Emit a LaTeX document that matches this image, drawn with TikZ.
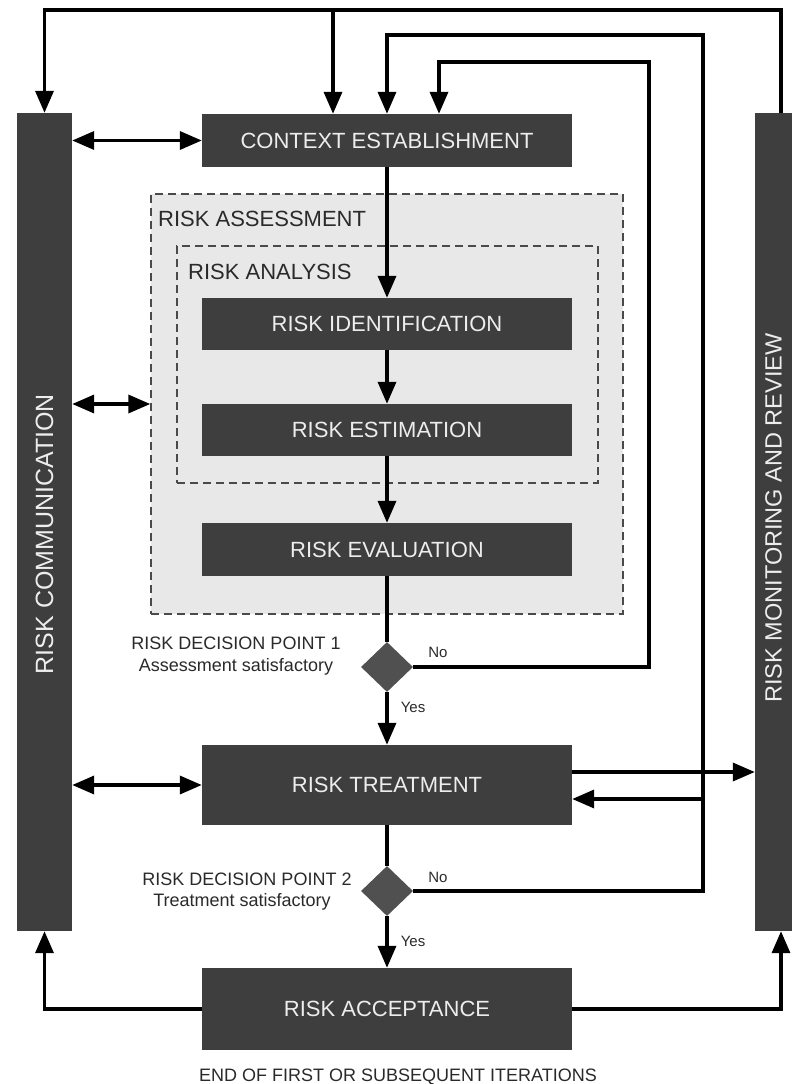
\documentclass[tikz,border=0pt]{standalone}
\usepackage{fontspec}
\setmainfont{Liberation Sans}
\usetikzlibrary{arrows.meta,shapes.geometric,calc}
\definecolor{boxgray}{HTML}{3E3E3E}
\definecolor{diagray}{HTML}{505050}
\definecolor{areagray}{HTML}{E8E8E8}
\definecolor{dashgray}{HTML}{4A4A4A}
\definecolor{labelgray}{HTML}{2A2A2A}
\definecolor{boxtext}{HTML}{EDEDED}
\begin{document}
\begin{tikzpicture}[x=1pt,y=-1pt,
  proc/.style={fill=boxgray, text=boxtext, minimum width=370pt, inner sep=0pt, font=\fontsize{22}{26}\selectfont},
  bar/.style={fill=boxgray, text=boxtext, inner sep=0pt, font=\fontsize{22}{26}\selectfont},
  dec/.style={diamond, fill=diagray, minimum width=52pt, minimum height=50pt, inner sep=0pt},
  area/.style={draw=dashgray, fill=areagray, line width=1.4pt, dash pattern=on 8pt off 5pt, inner sep=0pt},
  flow/.style={line width=3.5pt, black},
  arr/.style={flow, -{Triangle[length=22pt,width=18pt]}},
  darr/.style={flow, {Triangle[length=22pt,width=18pt]}-{Triangle[length=22pt,width=18pt]}},
  lab/.style={text=labelgray, inner sep=0pt, font=\fontsize{18}{21}\selectfont},
  small/.style={text=labelgray, inner sep=0pt, font=\fontsize{15}{18}\selectfont},
  arealab/.style={text=labelgray, inner sep=0pt, anchor=base west, font=\fontsize{22}{26}\selectfont}
]
\fill[white] (0,0) rectangle (792,1084);
\useasboundingbox (0,0) rectangle (792,1084);

% dashed areas
\node[area, minimum width=472pt, minimum height=420pt] (assess) at (387,404) {};
\node[area, minimum width=421pt, minimum height=237pt] (analysis) at (387.5,364.5) {};
\node[arealab] (assesslab) at (158,226) {RISK ASSESSMENT};
\node[arealab] (analysislab) at (188,279) {RISK ANALYSIS};

% side bars
\node[bar, minimum width=55pt, minimum height=818pt] (comm) at (44.5,522) {};
\node[bar, rotate=90, font=\fontsize{25}{30}\selectfont] (commtext) at (44.5,534) {RISK COMMUNICATION};
\node[bar, minimum width=37pt, minimum height=818pt] (mon) at (773.5,522) {};
\node[bar, rotate=90, font=\fontsize{23.5}{28}\selectfont] (montext) at (773.5,518) {RISK MONITORING AND REVIEW};

% process boxes
\node[proc, minimum height=53pt] (ce) at (387,140.5) {CONTEXT ESTABLISHMENT};
\node[proc, minimum height=52pt] (ri) at (387,324) {RISK IDENTIFICATION};
\node[proc, minimum height=52pt] (rest) at (387,430) {RISK ESTIMATION};
\node[proc, minimum height=53pt] (rev) at (387,549.5) {RISK EVALUATION};
\node[proc, minimum height=80pt] (rt) at (387,785) {RISK TREATMENT};
\node[proc, minimum height=82pt] (ra) at (387,1009) {RISK ACCEPTANCE};

% decisions
\node[dec] (d1) at (387,667) {};
\node[dec] (d2) at (387,891) {};

\node[lab] (dp1) at (236,643) {RISK DECISION POINT 1};
\node[lab] (dp1b) at (236,667) {Assessment satisfactory};
\node[lab] (dp2) at (247,879) {RISK DECISION POINT 2};
\node[lab] (dp2b) at (242,902) {Treatment satisfactory};
\node[small] (no1) at (438,652) {No};
\node[small] (yes1) at (413,707) {Yes};
\node[small] (no2) at (438,877) {No};
\node[small] (yes2) at (413,941) {Yes};
\node[lab] (endlab) at (398,1077) {END OF FIRST OR SUBSEQUENT ITERATIONS};

% main chain
\draw[arr] (ce.south) -- (ri.north);
\draw[arr] (ri.south) -- (rest.north);
\draw[arr] (rest.south) -- (rev.north);
\draw[flow] (rev.south) -- (d1.north);
\draw[arr] (d1.south) -- (rt.north);
\draw[flow] (rt.south) -- (d2.north);
\draw[arr] (d2.south) -- (ra.north);

% communication double arrows
\draw[darr] (ce.west -| comm.east) -- (ce.west);
\draw[darr] (assess.west -| comm.east) -- (assess.west);
\draw[darr] (rt.west -| comm.east) -- (rt.west);

% top loop from monitoring
\coordinate (tr) at (781,10);
\coordinate (tm) at (333,10);
\draw[arr] (tr |- mon.north) -- (tr) -- (tr -| comm.north) -- (comm.north);
\draw[arr] (tm) -- (tm |- ce.north);

% decision 1 loop
\coordinate (l3) at (649,62);
\coordinate (l3end) at (439,62);
\draw[arr] (d1.east) -| (l3) -- (l3end) -- (l3end |- ce.north);

% decision 2 loop
\coordinate (l2) at (703,35);
\draw[arr] (d2.east) -| (l2) -| (ce.north);
\coordinate (rtin) at (703,799);
\draw[arr] (rtin) -- (rtin -| rt.east);

% treatment to monitoring
\coordinate (rtout) at ($(rt.east)+(0,-13)$);
\draw[arr] (rtout) -- (rtout -| mon.west);

% acceptance to bars
\draw[arr] (ra.west) -| (comm.south);
\draw[arr] (ra.east) -| (tr |- mon.south);
\end{tikzpicture}
\end{document}
